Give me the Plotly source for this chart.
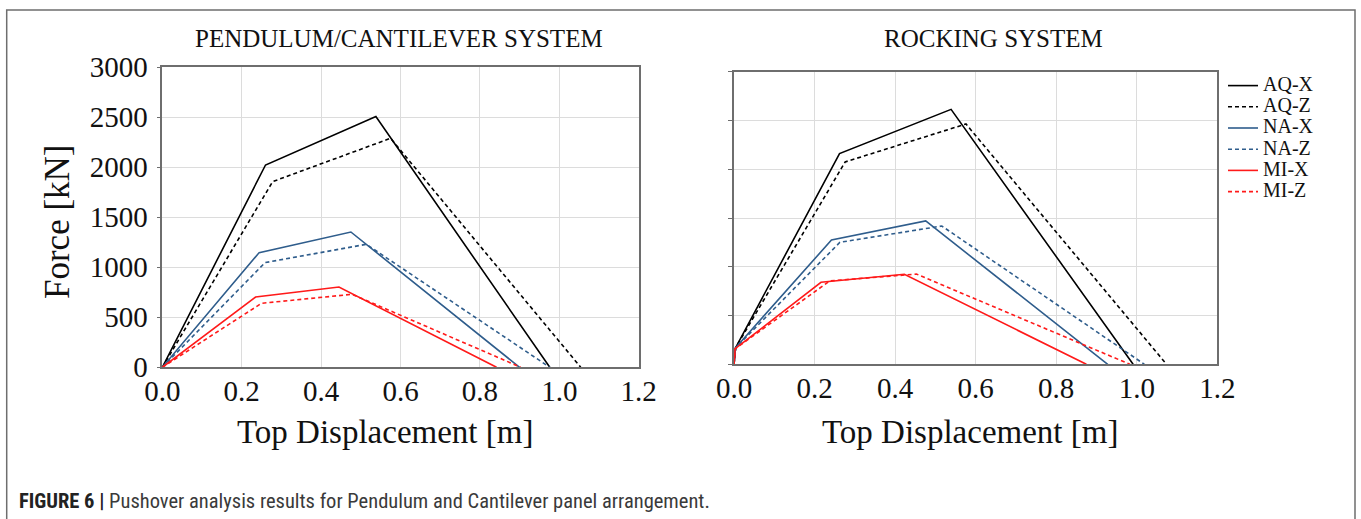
import plotly.graph_objects as go

W, H = 1361, 519

series_names = ["AQ-X", "AQ-Z", "NA-X", "NA-Z", "MI-X", "MI-Z"]
series_colors = ["#000000", "#000000", "#2f5d8c", "#2f5d8c", "#ff1a1a", "#ff1a1a"]
series_dash = ["solid", "4px,3px", "solid", "4px,3px", "solid", "4px,3px"]

# Pendulum / cantilever system
pend_aqx_x = [0, 0.260, 0.538, 0.976]
pend_aqx_y = [0, 2023, 2507, 0]
pend_aqz_x = [0, 0.278, 0.575, 1.054]
pend_aqz_y = [0, 1857, 2290, 0]
pend_nax_x = [0, 0.244, 0.475, 0.900]
pend_nax_y = [0, 1147, 1353, 0]
pend_naz_x = [0, 0.259, 0.514, 0.976]
pend_naz_y = [0, 1047, 1230, 0]
pend_mix_x = [0, 0.235, 0.445, 0.842]
pend_mix_y = [0, 703, 803, 0]
pend_miz_x = [0, 0.250, 0.478, 0.903]
pend_miz_y = [0, 640, 730, 0]

# Rocking system
rock_aqx_x = [0, 0.004, 0.262, 0.539, 0.991]
rock_aqx_y = [0, 170, 2160, 2614, 0]
rock_aqz_x = [0, 0.004, 0.276, 0.576, 1.074]
rock_aqz_y = [0, 170, 2075, 2464, 0]
rock_nax_x = [0, 0.004, 0.242, 0.476, 0.928]
rock_nax_y = [0, 170, 1275, 1470, 0]
rock_naz_x = [0, 0.004, 0.263, 0.516, 1.019]
rock_naz_y = [0, 170, 1251, 1418, 0]
rock_mix_x = [0, 0.003, 0.216, 0.423, 0.875]
rock_mix_y = [0, 160, 841, 923, 0]
rock_miz_x = [0, 0.003, 0.238, 0.453, 0.983]
rock_miz_y = [0, 160, 855, 925, 0]

x_ticks = [0.0, 0.2, 0.4, 0.6, 0.8, 1.0, 1.2]
x_tick_labels = ["0.0", "0.2", "0.4", "0.6", "0.8", "1.0", "1.2"]
y_ticks = [0, 500, 1000, 1500, 2000, 2500, 3000]
y_tick_labels = ["0", "500", "1000", "1500", "2000", "2500", "3000"]

pend = [(pend_aqx_x, pend_aqx_y), (pend_aqz_x, pend_aqz_y), (pend_nax_x, pend_nax_y),
        (pend_naz_x, pend_naz_y), (pend_mix_x, pend_mix_y), (pend_miz_x, pend_miz_y)]
rock = [(rock_aqx_x, rock_aqx_y), (rock_aqz_x, rock_aqz_y), (rock_nax_x, rock_nax_y),
        (rock_naz_x, rock_naz_y), (rock_mix_x, rock_mix_y), (rock_miz_x, rock_miz_y)]

SERIF = "Liberation Serif, Times New Roman, serif"

fig = go.Figure()
for i, (xs, ys) in enumerate(pend):
    fig.add_trace(go.Scatter(x=xs, y=ys, mode="lines", name=series_names[i],
                             line=dict(color=series_colors[i], dash=series_dash[i], width=1.6),
                             xaxis="x", yaxis="y", showlegend=False))
for i, (xs, ys) in enumerate(rock):
    fig.add_trace(go.Scatter(x=xs, y=ys, mode="lines",
                             name='<span style="font-size:20px">' + series_names[i] + '</span>',
                             line=dict(color=series_colors[i], dash=series_dash[i], width=1.6),
                             xaxis="x2", yaxis="y2", showlegend=True))

def px(x):
    return x / W

def py(y):
    return 1 - y / H

axis_common = dict(showgrid=True, gridcolor="#dcdcdc", gridwidth=1,
                   showline=True, linecolor="#6e6e6e", linewidth=1.5, mirror=True,
                   zeroline=False, automargin=False)

fig.update_layout(
    width=W, height=H,
    margin=dict(l=0, r=0, t=0, b=0, pad=0, autoexpand=False),
    paper_bgcolor="white", plot_bgcolor="white",
    xaxis=dict(domain=[px(162.3), px(638.7)], range=[0, 1.2], tickvals=x_ticks,
               ticktext=x_tick_labels, anchor="y", ticklabelstandoff=-3,
               tickfont=dict(family=SERIF, size=29, color="#111"), ticks="", **axis_common),
    yaxis=dict(domain=[py(367.3), py(67.3)], range=[0, 3000], tickvals=y_ticks,
               ticktext=y_tick_labels, anchor="x", ticklabelstandoff=3,
               tickfont=dict(family=SERIF, size=29, color="#111"),
               ticks="outside", ticklen=4, tickcolor="#6e6e6e", **axis_common),
    xaxis2=dict(domain=[px(734), px(1217.3)], range=[0, 1.2], tickvals=x_ticks,
                ticktext=x_tick_labels, anchor="y2", ticklabelstandoff=-3,
                tickfont=dict(family=SERIF, size=29, color="#111"), ticks="", **axis_common),
    yaxis2=dict(domain=[py(364.3), py(71.7)], range=[0, 3000], tickvals=y_ticks,
                showticklabels=False, anchor="x2",
                ticks="outside", ticklen=4, tickcolor="#6e6e6e", **axis_common),
    legend=dict(x=px(1223), y=py(70), xanchor="left", yanchor="top",
                font=dict(family=SERIF, size=14, color="#111"),
                bgcolor="rgba(0,0,0,0)", tracegroupgap=0, itemwidth=30),
    showlegend=True,
)

ann = [
    dict(text="PENDULUM/CANTILEVER SYSTEM", x=px(399), y=py(38), font=dict(family=SERIF, size=25, color="#111")),
    dict(text="ROCKING SYSTEM", x=px(993), y=py(38), font=dict(family=SERIF, size=25, color="#111")),
    dict(text="Top Displacement [m]", x=px(385), y=py(432), font=dict(family=SERIF, size=33, color="#111")),
    dict(text="Top Displacement [m]", x=px(970), y=py(432), font=dict(family=SERIF, size=33, color="#111")),
    dict(text="Force [kN]", x=px(57), y=py(222), textangle=-90, font=dict(family=SERIF, size=35, color="#111")),
]
for a in ann:
    fig.add_annotation(xref="paper", yref="paper", xanchor="center", yanchor="middle",
                       showarrow=False, **a)

fig.add_annotation(xref="paper", yref="paper", x=px(17), y=py(501), xanchor="left", yanchor="middle",
                   showarrow=False,
                   text="<b style='color:#222'>FIGURE 6 |</b> Pushover analysis results for Pendulum and Cantilever panel arrangement.",
                   font=dict(family="Liberation Sans Narrow, Arial Narrow, Roboto Condensed, sans-serif",
                             size=20.5, color="#3a3a3a"))

fig.add_shape(type="rect", xref="paper", yref="paper", x0=px(6.7), x1=px(1355), y0=-0.05, y1=py(10),
              line=dict(color="#6e6e6e", width=1.5), fillcolor="rgba(0,0,0,0)", layer="below")

fig.write_html("out.html")
